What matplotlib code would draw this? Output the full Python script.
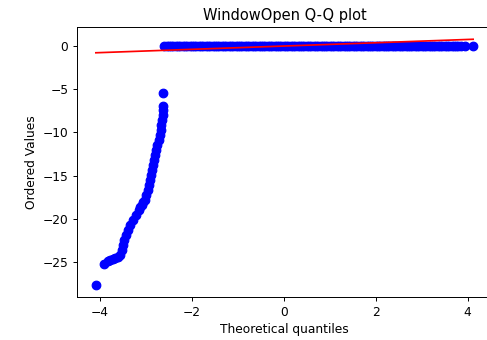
import matplotlib
matplotlib.use("Agg")
import matplotlib.pyplot as plt
import numpy as np

title = "WindowOpen Q-Q plot"
xlabel = "Theoretical quantiles"
ylabel = "Ordered Values"

# Tail of negative ordered values (theoretical quantile, ordered value)
tail_x = [-4.089, -3.911, -3.834, -3.776, -3.725, -3.667, -3.617, -3.562, -3.529,
          -3.508, -3.475, -3.442, -3.399, -3.344, -3.290, -3.224, -3.159, -3.125,
          -3.094, -3.055, -3.017, -2.989, -2.963, -2.941, -2.919, -2.891, -2.865,
          -2.843, -2.821, -2.800, -2.778, -2.749, -2.723, -2.702, -2.680, -2.662,
          -2.647, -2.636, -2.630, -2.630, -2.630]
tail_y = [-27.60, -25.18, -24.89, -24.72, -24.60, -24.52, -24.43, -24.14, -23.56,
          -22.99, -22.41, -21.83, -21.26, -20.68, -20.10, -19.53, -18.95, -18.67,
          -18.38, -18.09, -17.80, -17.22, -16.64, -16.07, -15.49, -14.91, -14.34,
          -13.76, -13.18, -12.61, -12.03, -11.45, -10.88, -10.30, -9.72, -9.15,
          -8.57, -7.99, -7.42, -6.92, -5.49]

# Zero-valued ordered values (theoretical quantiles)
flat_x = [-2.60, -2.55, -2.50, -2.45, -2.40, -2.35, -2.30, -2.25, -2.20, -2.15,
          -2.10, -2.05, -2.00, -1.95, -1.90, -1.85, -1.80, -1.75, -1.70, -1.65,
          -1.60, -1.55, -1.50, -1.45, -1.40, -1.35, -1.30, -1.25, -1.20, -1.15,
          -1.10, -1.05, -1.00, -0.95, -0.90, -0.85, -0.80, -0.75, -0.70, -0.65,
          -0.60, -0.55, -0.50, -0.45, -0.40, -0.35, -0.30, -0.25, -0.20, -0.15,
          -0.10, -0.05, 0.00, 0.05, 0.10, 0.15, 0.20, 0.25, 0.30, 0.35,
          0.40, 0.45, 0.50, 0.55, 0.60, 0.65, 0.70, 0.75, 0.80, 0.85,
          0.90, 0.95, 1.00, 1.05, 1.10, 1.15, 1.20, 1.25, 1.30, 1.35,
          1.40, 1.45, 1.50, 1.55, 1.60, 1.65, 1.70, 1.75, 1.80, 1.85,
          1.90, 1.95, 2.00, 2.05, 2.10, 2.15, 2.20, 2.25, 2.30, 2.35,
          2.40, 2.45, 2.50, 2.55, 2.60, 2.65, 2.70, 2.75, 2.80, 2.85,
          2.90, 2.95, 3.00, 3.05, 3.10, 3.15, 3.20, 3.25, 3.30, 3.35,
          3.40, 3.45, 3.50, 3.55, 3.60, 3.65, 3.70, 3.75, 3.80, 3.85,
          3.94, 4.12]
flat_value = 0.0

# Least-squares fit line
fit_slope = 0.19
fit_intercept = -0.02

DPI = 88
fig = plt.figure(figsize=(487 / DPI, 340 / DPI), dpi=DPI)
ax = fig.add_axes([77 / 487, 43 / 340, (492 - 77) / 487, (297 - 27) / 340])

osm = np.array(tail_x + flat_x)
osr = np.array(tail_y + [flat_value] * len(flat_x))
ax.plot(osm, osr, "bo", markersize=7)
line_x = np.array([osm.min(), osm.max()])
ax.plot(line_x, fit_slope * line_x + fit_intercept, "r-", linewidth=1.4)

ax.set_title(title, fontsize=12)
ax.set_xlabel(xlabel, fontsize=10)
ax.set_ylabel(ylabel, fontsize=10)
ax.tick_params(labelsize=10)

fig.savefig("out.png", dpi=DPI)
